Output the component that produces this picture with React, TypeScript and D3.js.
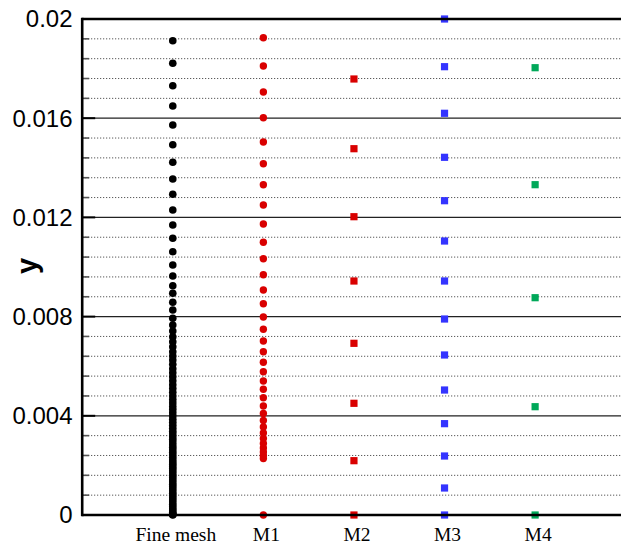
import React from 'react';
import * as d3 from 'd3';

const categories = ['Fine mesh', 'M1', 'M2', 'M3', 'M4'];

const fineMesh = [
  0.019125, 0.018214, 0.017311, 0.016492, 0.015726, 0.014931, 0.014222, 0.013548,
  0.012931, 0.012298, 0.011694, 0.011157, 0.010617, 0.010081, 0.009637, 0.009246,
  0.00894, 0.008577, 0.008266, 0.007931, 0.007661, 0.007419, 0.00719, 0.006988,
  0.006786, 0.006585, 0.006411, 0.00625, 0.006077, 0.0059, 0.005738, 0.005577,
  0.00541, 0.00525, 0.0051, 0.00495, 0.0048, 0.00466, 0.00452, 0.00438, 0.00425,
  0.00412, 0.00399, 0.00386, 0.00374, 0.00362, 0.0035, 0.00338, 0.00327, 0.00316,
  0.00305, 0.00294, 0.00283, 0.00273, 0.00263, 0.00253, 0.00243, 0.00233, 0.00223,
  0.00214, 0.00205, 0.00196, 0.00187, 0.00178, 0.00169, 0.0016, 0.00151, 0.00142,
  0.00133, 0.00124, 0.00115, 0.00106, 0.00097, 0.00088, 0.00079, 0.0007, 0.00061,
  0.00052, 0.00043, 0.00034, 0.00026, 0.00018, 0.00011, 0.00005, 0.00002, 0,
];

const m1 = [
  0.019246, 0.018105, 0.017056, 0.01602, 0.01504, 0.014165, 0.013319, 0.0125,
  0.011734, 0.010996, 0.010335, 0.00969, 0.009073, 0.00852, 0.007984, 0.007488,
  0.007016, 0.006585, 0.006157, 0.005778, 0.005403, 0.005069, 0.00473, 0.004395,
  0.004093, 0.00381, 0.003548, 0.003306, 0.003085, 0.002883, 0.002702, 0.00254,
  0.002399, 0.002278, 0,
];

const m2 = [0.017581, 0.01477, 0.012028, 0.009435, 0.006923, 0.004504, 0.00219, 0];

const m3 = [
  0.02, 0.018077, 0.016198, 0.014423, 0.012673, 0.011048, 0.009435, 0.007903,
  0.006452, 0.00504, 0.003683, 0.002379, 0.001089, 0,
];

const m4 = [0.018036, 0.013319, 0.008762, 0.004367, 0];

const yTicks = [0, 0.004, 0.008, 0.012, 0.016, 0.02];
const yTickLabels = ['0', '0.004', '0.008', '0.012', '0.016', '0.02'];

const seriesValues = [fineMesh, m1, m2, m3, m4];
const seriesColors = ['#000000', '#d90000', '#d90000', '#3434ff', '#00a859'];
const seriesShapes = ['circle', 'circle', 'square', 'square', 'square'];

export default function App() {
  const W = 621;
  const H = 544;
  const x = d3.scaleLinear().domain([0, 6]).range([82.2, 625.7]);
  const y = d3.scaleLinear().domain([0, 0.02]).range([515, 19]);
  const left = x(0);
  const right = W;

  const minorTicks = d3
    .range(0, 26)
    .filter((i) => i % 5 !== 0)
    .map((i) => i * 0.0008);
  const majorInner = yTicks.filter((t) => t > 0 && t < 0.02);

  const sansFont = "'Liberation Sans', Arial, Helvetica, sans-serif";
  const serifFont = "'Liberation Serif', 'Times New Roman', serif";

  return (
    <svg
      width={W}
      height={H}
      style={{ position: 'absolute', left: 0, top: 0, background: '#fff' }}
    >
      <rect x={0} y={0} width={W} height={H} fill="#fff" />
      {/* minor dotted grid */}
      {minorTicks.map((t, i) => (
        <g key={'mn' + i}>
          <line
            x1={left}
            x2={right}
            y1={y(t)}
            y2={y(t)}
            stroke="#333"
            strokeWidth={1}
            strokeDasharray="1,2"
          />
          <line x1={left} x2={left + 7} y1={y(t)} y2={y(t)} stroke="#555" strokeWidth={1.6} />
        </g>
      ))}
      {/* major solid grid */}
      {majorInner.map((t, i) => (
        <g key={'mj' + i}>
          <line x1={left} x2={right} y1={y(t)} y2={y(t)} stroke="#222" strokeWidth={1.2} />
          <line x1={left} x2={left + 13} y1={y(t)} y2={y(t)} stroke="#000" strokeWidth={2} />
        </g>
      ))}

      {/* markers */}
      {seriesValues.map((vals, si) => (
        <g key={'s' + si} fill={seriesColors[si]}>
          {vals.map((v, j) =>
            seriesShapes[si] === 'circle' ? (
              <circle key={j} cx={x(si + 1)} cy={y(v)} r={si === 0 ? 3.8 : 3.7} />
            ) : (
              <rect key={j} x={x(si + 1) - 3.6} y={y(v) - 3.6} width={7.2} height={7.2} />
            )
          )}
        </g>
      ))}

      {/* frame */}
      <line x1={left} x2={right} y1={y(0.02)} y2={y(0.02)} stroke="#000" strokeWidth={2.6} />
      <line x1={left} x2={right} y1={y(0)} y2={y(0)} stroke="#000" strokeWidth={2.6} />
      <line x1={left} x2={left} y1={y(0.02) - 1.3} y2={y(0) + 1.3} stroke="#000" strokeWidth={2.6} />

      {/* y tick labels */}
      {yTicks.map((t, i) => (
        <text
          key={'yl' + i}
          x={72.5}
          y={y(t)}
          dy="0.35em"
          textAnchor="end"
          fontFamily={sansFont}
          fontSize={24}
          fill="#000"
        >
          {yTickLabels[i]}
        </text>
      ))}

      {/* x category labels */}
      {categories.map((c, i) => (
        <text
          key={'xl' + i}
          x={x(i + 1) + 3}
          y={540.5}
          textAnchor="middle"
          fontFamily={serifFont}
          fontSize={19.5}
          fill="#000"
        >
          {c}
        </text>
      ))}

      {/* y axis title */}
      <text
        transform={`translate(37, 266) rotate(-90)`}
        textAnchor="middle"
        fontFamily={sansFont}
        fontWeight="bold"
        fontSize={29}
        fill="#000"
      >
        y
      </text>
    </svg>
  );
}
